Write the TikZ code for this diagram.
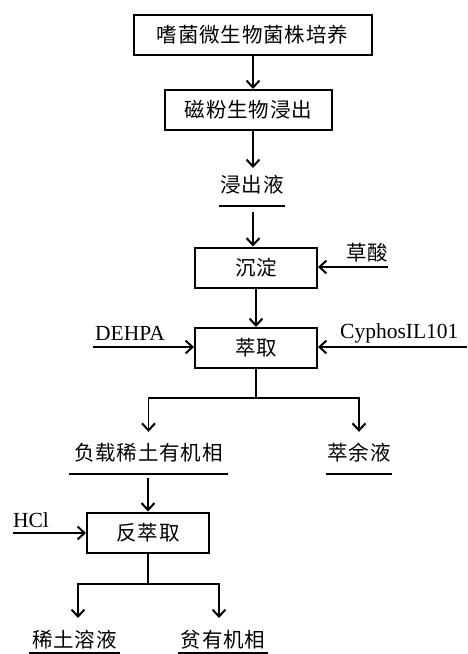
\documentclass[tikz,border=0pt]{standalone}
\usepackage{fontspec}
\setmainfont{Liberation Serif}
\newfontfamily\cjk{Noto Sans CJK SC}[LetterSpace=4]
\usetikzlibrary{arrows.meta}
\tikzset{
  proc/.style={draw, line width=2pt, minimum height=40pt, inner sep=0pt, font=\cjk\fontsize{20.5}{20.5}\selectfont},
  prod/.style={inner sep=0pt, font=\cjk\fontsize{20.5}{20.5}\selectfont, minimum height=42pt},
  uline/.style={line width=1.6pt},
  lat/.style={inner sep=0pt, font=\fontsize{21.5}{21.5}\selectfont},
  arr/.style={line width=1.8pt, -{Straight Barb[length=7pt,width=13pt,line width=2pt]}},
  wire/.style={line width=1.8pt}
}
\begin{document}
\begin{tikzpicture}[x=1pt,y=-1pt]
\useasboundingbox (0,0) rectangle (467,654);
% process boxes
\node[proc, minimum width=238pt] (b1) at (252.5,34.5) {嗜菌微生物菌株培养};
\node[proc, minimum width=167pt] (b2) at (248.5,110) {磁粉生物浸出};
\node[proc, minimum width=122pt] (b3) at (256,267.5) {沉淀};
\node[proc, minimum width=122pt] (b4) at (256,348) {萃取};
\node[proc, minimum width=122pt] (b5) at (148,532.5) {反萃取};
% intermediate and final products (underlined)
\node[prod, minimum width=66pt] (liq) at (252,185) {浸出液};
\node[prod, minimum width=159pt] (load) at (148.5,453) {负载稀土有机相};
\node[prod, minimum width=66pt] (raff) at (359,453) {萃余液};
\node[prod, minimum width=91pt, minimum height=26pt] (ree) at (74.5,640) {稀土溶液};
\node[prod, minimum width=90pt, minimum height=26pt] (poor) at (223,640) {贫有机相};
\foreach \n in {liq,load,raff,ree,poor}
  \draw[uline] (\n.south west) -- (\n.south east);
% reagents
\node[prod, minimum height=0pt] (ox) at (367,253) {草酸};
\node[lat] (dehpa) at (130,333) {DEHPA};
\node[lat, anchor=west] (cyp) at (340,333) {CyphosIL101};
\node[lat] (hcl) at (31,520) {HCl};
\coordinate (oxin) at (388,267);
\coordinate (dein) at (93,347);
\coordinate (cyin) at (467,347);
\coordinate (hcin) at (13,533);
% split points
\coordinate (s1) at (256,398);
\coordinate (s2) at (148,584);
% main flow
\draw[arr] (b1.south -| 253,0) -- (b2.north -| 253,0);
\draw[arr] (b2.south -| 253,0) -- (253,168);
\draw[arr, shorten <=6pt] (liq.south -| 253,0) -- (b3.north -| 253,0);
\draw[arr] (b3.south) -- (b4.north);
\draw[arr] (oxin) -- (b3.east |- oxin);
\draw[arr] (dein) -- (b4.west |- dein);
\draw[arr] (cyin) -- (b4.east |- cyin);
\draw[wire] (b4.south) -- (s1);
\draw[arr] (s1) -| (load.north);
\draw[arr] (s1) -| (raff.north);
\draw[arr, shorten <=4pt] (load.south -| b5.north) -- (b5.north);
\draw[arr] (hcin) -- (b5.west |- hcin);
\draw[wire] (b5.south) -- (s2);
\draw[arr] (s2) -| (78,618);
\draw[arr] (s2) -| (219,618);
\end{tikzpicture}
\end{document}
